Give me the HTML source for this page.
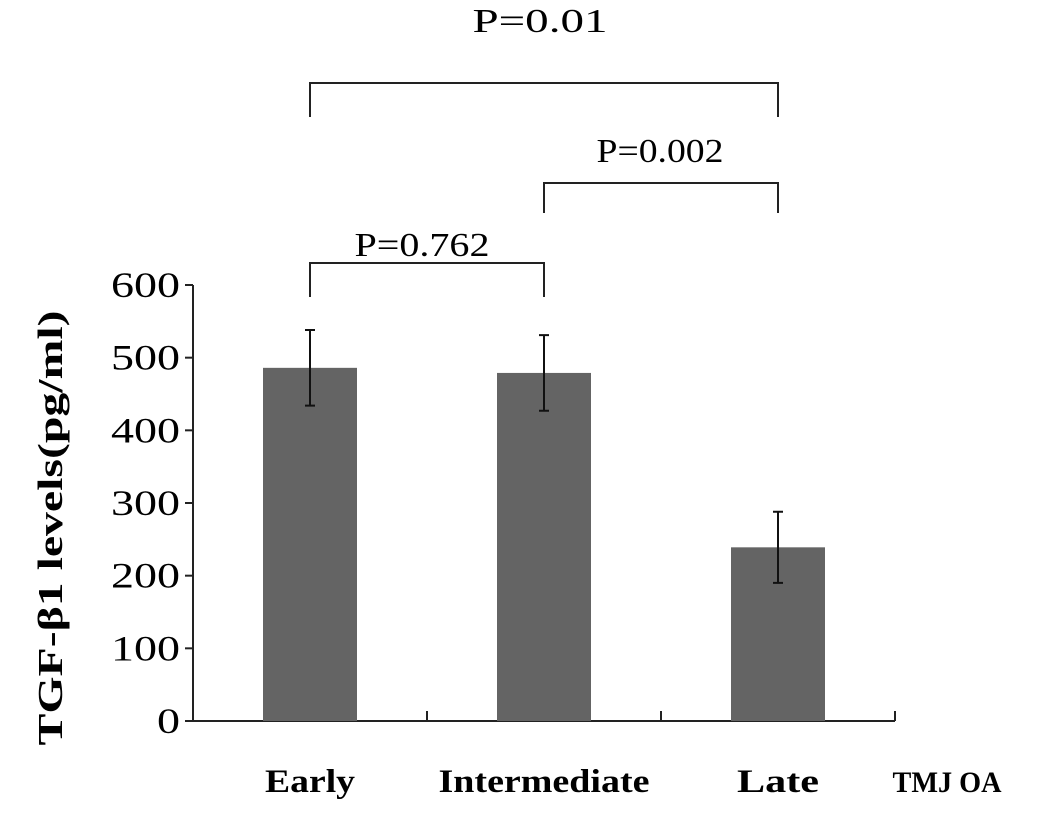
<!DOCTYPE html>
<html><head><meta charset="utf-8"><style>
body{margin:0;background:#fff}
text{font-family:"Liberation Serif",serif;fill:#000}
</style></head><body>
<svg id="chart" width="1063" height="817" xmlns="http://www.w3.org/2000/svg"></svg>
<script>
const categories=["Early","Intermediate","Late"];
const values=[486,479,239];
const errors=[52,52,49];
const yTicks=[0,100,200,300,400,500,600];
const brackets=[{a:0,b:1,label:"P=0.762"},{a:1,b:2,label:"P=0.002"},{a:0,b:2,label:"P=0.01"}];
const svg=document.getElementById('chart');
const NS="http://www.w3.org/2000/svg";
const x0=193,x1=895,yBase=721,yTop=285,yMax=600;
const y=v=>yBase-(v/yMax)*(yBase-yTop);
const bw=(x1-x0)/categories.length;
const cx=i=>x0+bw*(i+0.5);
function mk(tag,attrs,txt){const e=document.createElementNS(NS,tag);for(const k in attrs)e.setAttribute(k,attrs[k]);if(txt!=null)e.textContent=txt;svg.appendChild(e);return e;}
let e;
e=mk('line',{x1:x0,y1:yTop,x2:x0,y2:yBase,stroke:'#222','stroke-width':2});


e=mk('line',{x1:x0,y1:yBase,x2:x1,y2:yBase,stroke:'#222','stroke-width':2});


yTicks.forEach(t=>{
 e=mk('line',{x1:x0-8,y1:y(t),x2:x0,y2:y(t),stroke:'#222','stroke-width':2});
 
 
 const s=String(t);
 e=mk('text',{x:180,y:y(t)+12,'text-anchor':'end','font-size':36,textLength:s.length*23,lengthAdjust:'spacingAndGlyphs'},s);
 
 
});
for(let i=1;i<=categories.length;i++){
 e=mk('line',{x1:x0+bw*i,y1:yBase-10,x2:x0+bw*i,y2:yBase,stroke:'#222','stroke-width':2});
 
 
}
const catW=[90,211,82];
categories.forEach((c,i)=>{
 e=mk('rect',{x:cx(i)-47,y:y(values[i]),width:94,height:yBase-y(values[i]),fill:'#646464'});
 
 
 const t=y(values[i]+errors[i]),b=y(values[i]-errors[i]);
 e=mk('path',{d:`M${cx(i)},${t}V${b}M${cx(i)-5},${t}H${cx(i)+5}M${cx(i)-5},${b}H${cx(i)+5}`,stroke:'#111','stroke-width':2,fill:'none'});
 
 
 e=mk('text',{x:cx(i),y:792,'text-anchor':'middle','font-size':33,'font-weight':'bold',textLength:catW[i],lengthAdjust:'spacingAndGlyphs'},c);
 
 
});
e=mk('text',{x:947,y:792,'text-anchor':'middle','font-size':30,'font-weight':'bold',textLength:109,lengthAdjust:'spacingAndGlyphs'},'TMJ OA');


e=mk('text',{x:0,y:0,'text-anchor':'middle','font-size':35,'font-weight':'bold',textLength:435,lengthAdjust:'spacingAndGlyphs',transform:'translate(62,528) rotate(-90)'},'TGF-β1 levels(pg/ml)');


const bTop=[263,183,83],bBot=[297,213,117],bTxt=[256,162,32],bW=[135,127,135];
brackets.forEach((br,k)=>{
 const yt=bTop[k],yb=bBot[k],xa=cx(br.a),xb=cx(br.b);
 e=mk('path',{d:`M${xa},${yb}V${yt}H${xb}V${yb}`,stroke:'#222','stroke-width':2,fill:'none'});
 
 
 e=mk('text',{x:(k===0?422:k===1?660:540),y:bTxt[k],'text-anchor':'middle','font-size':34,textLength:bW[k],lengthAdjust:'spacingAndGlyphs'},br.label);
 
 
});
</script>
</body></html>
